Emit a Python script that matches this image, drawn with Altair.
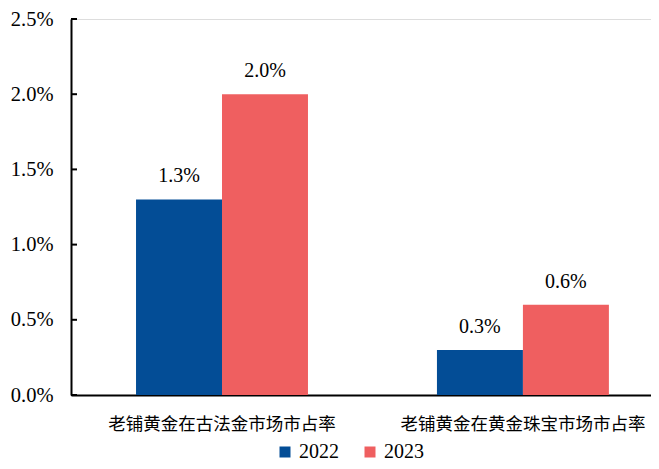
import altair as alt
import pandas as pd

categories = ["老铺黄金在古法金市场市占率", "老铺黄金在黄金珠宝市场市占率"]
series = ["2022", "2023"]
values_2022 = [0.013, 0.003]
values_2023 = [0.020, 0.006]
y_ticks = [0.0, 0.005, 0.010, 0.015, 0.020, 0.025]
colors = ["#034D96", "#EF5F60"]

rows = []
for i, c in enumerate(categories):
    rows.append({"cat": c, "year": "2022", "v": values_2022[i]})
    rows.append({"cat": c, "year": "2023", "v": values_2023[i]})
df = pd.DataFrame(rows)
tick_df = pd.DataFrame({"t": y_ticks})

serif = "Times New Roman, Liberation Serif, serif"
cjk = "Noto Sans CJK SC"

x_enc = alt.X("cat:N", sort=categories, title=None,
              scale=alt.Scale(paddingInner=0.4286, paddingOuter=0.178, align=0.607),
              axis=alt.Axis(labelAngle=0, labelFont=cjk, labelFontSize=17.5, labelColor="#000000",
                            labelPadding=20, labelLimit=0, ticks=False, domainColor="#000000",
                            domainWidth=2, grid=False))
y_scale = alt.Scale(domain=[0, 0.025], nice=False)
y_axis = alt.Axis(values=y_ticks, format=".1%", labelFont=serif, labelFontSize=20.5,
                  labelColor="#000000", labelPadding=18, ticks=False, grid=False,
                  domainColor="#000000", domainWidth=2)

bars = alt.Chart(df).mark_bar().encode(
    x=x_enc,
    xOffset=alt.XOffset("year:N", sort=series, scale=alt.Scale(paddingInner=0, paddingOuter=0)),
    y=alt.Y("v:Q", scale=y_scale, title=None, axis=y_axis),
    color=alt.Color("year:N", sort=series, scale=alt.Scale(domain=series, range=colors),
                    legend=alt.Legend(title=None, orient="none", direction="horizontal",
                                      legendX=204, legendY=423, symbolType="square",
                                      symbolSize=121, symbolStrokeWidth=0, labelFont=serif,
                                      labelFontSize=20, labelColor="#000000", labelOffset=4,
                                      columnPadding=21)),
)

labels = alt.Chart(df).mark_text(font=serif, fontSize=20, color="#000000", baseline="alphabetic", dy=-17).encode(
    x=alt.X("cat:N", sort=categories),
    xOffset=alt.XOffset("year:N", sort=series),
    y=alt.Y("v:Q", scale=y_scale),
    text=alt.Text("v:Q", format=".1%"),
)

ticks = alt.Chart(tick_df).mark_rule(color="#000000", strokeWidth=2).encode(
    y=alt.Y("t:Q", scale=y_scale, title=None, axis=y_axis),
    x=alt.value(0),
    x2=alt.value(6),
)

chart = alt.layer(bars, labels, ticks).properties(
    width=580, height=376,
    autosize=alt.AutoSizeParams(type="none"),
    padding={"left": 63, "top": 11, "right": 0, "bottom": 66},
).configure_view(strokeWidth=0).configure(background="#ffffff")

chart.save("out.html", embed_options={"renderer": "svg", "actions": False})
